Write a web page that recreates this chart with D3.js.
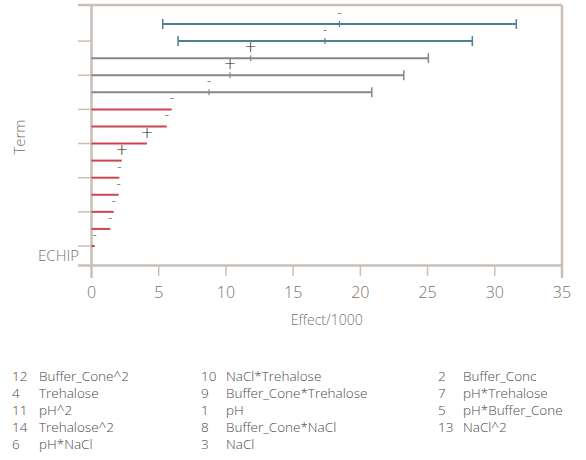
<!DOCTYPE html>
<html><head><meta charset="utf-8">
<script src="https://cdn.jsdelivr.net/npm/d3@7"></script>
<style>
html,body{margin:0;padding:0;background:#fff;}
svg{display:block;font-family:"Open Sans",Lato,sans-serif;}
</style></head>
<body><svg id="c" width="586" height="460"></svg>
<script>
// Data (Effect/1000), rows top to bottom
const groups = ["blue","blue","gray","gray","gray","red","red","red","red","red","red","red","red","red"];
const lows   = [5.3, 6.44, 0, 0, 0, 0,0,0,0,0,0,0,0,0];
const effects= [18.44, 17.37, 11.84, 10.3, 8.74, 5.97, 5.6, 4.13, 2.25, 2.07, 2.02, 1.65, 1.40, 0.24];
const highs  = [31.6, 28.33, 25.06, 23.23, 20.85, 5.97, 5.6, 4.13, 2.25, 2.07, 2.02, 1.65, 1.40, 0.24];
const signs  = ["-","-","+","+","-","-","-","+","+","-","-","-","-","-"];
const xTicks = [0,5,10,15,20,25,30,35];
const legendCols = [
  {nums:["12","4","11","14","6"], names:["Buffer_Cone^2","Trehalose","pH^2","Trehalose^2","pH*NaCl"]},
  {nums:["10","9","1","8","3"], names:["NaCl*Trehalose","Buffer_Cone*Trehalose","pH","Buffer_Cone*NaCl","NaCl"]},
  {nums:["2","7","5","13"], names:["Buffer_Conc","pH*Trehalose","pH*Buffer_Cone","NaCl^2"]}
];

const svg = d3.select("#c");
const L=91.5, R=562, T=5, B=265.5;
const axisCol="#c9bfb9", txtCol="#77716e";
const colors={blue:"#4f7f94", gray:"#8b8686", red:"#cc4551"};

const x = d3.scaleLinear().domain([0,35]).range([L,R]);
const y = d3.scalePoint().domain(d3.range(14)).range([24,246]);

// frame
svg.append("line").attr("x1",78).attr("x2",R).attr("y1",T).attr("y2",T).attr("stroke",axisCol).attr("stroke-width",2.5);
svg.append("line").attr("x1",R).attr("x2",R).attr("y1",T).attr("y2",278).attr("stroke",axisCol).attr("stroke-width",2.5);
svg.append("line").attr("x1",78).attr("x2",R).attr("y1",B).attr("y2",B).attr("stroke",axisCol).attr("stroke-width",2.5);
svg.append("line").attr("x1",L).attr("x2",L).attr("y1",T).attr("y2",278).attr("stroke",axisCol).attr("stroke-width",2.5);

// y ticks every other row
svg.selectAll(".yt").data(d3.range(1,14,2)).enter().append("line")
  .attr("x1",78).attr("x2",L).attr("y1",d=>y(d)).attr("y2",d=>y(d))
  .attr("stroke",axisCol).attr("stroke-width",1.5);

// x ticks
svg.selectAll(".xt").data(xTicks.slice(1,-1)).enter().append("line")
  .attr("x1",d=>x(d)).attr("x2",d=>x(d)).attr("y1",B).attr("y2",276)
  .attr("stroke",axisCol).attr("stroke-width",1.5);
svg.selectAll(".xl").data(xTicks).enter().append("text")
  .attr("x",d=>x(d)).attr("y",298).attr("text-anchor","middle")
  .attr("font-size",16).attr("font-weight",300).attr("fill",txtCol).text(d=>d);

svg.append("text").attr("x",(L+R)/2).attr("y",325).attr("text-anchor","middle")
  .attr("font-size",14).attr("font-weight",300).attr("fill",txtCol).text("Effect/1000");
svg.append("text").attr("transform","translate(25,137) rotate(-90)").attr("text-anchor","middle")
  .attr("font-size",15).attr("font-weight",300).attr("fill",txtCol).text("Term");
svg.append("text").attr("x",79).attr("y",261).attr("text-anchor","end")
  .attr("font-size",15).attr("font-weight",300).attr("fill",txtCol).text("ECHIP");

// bars
const rows = d3.range(14);
svg.selectAll(".bar").data(rows).enter().append("line")
  .attr("x1",i=>x(lows[i])).attr("x2",i=>x(highs[i]))
  .attr("y1",i=>y(i)).attr("y2",i=>y(i))
  .attr("stroke",i=>colors[groups[i]]).attr("stroke-width",2);
// caps
const ci = rows.filter(i=>groups[i]!=="red");
svg.selectAll(".capR").data(ci).enter().append("line")
  .attr("x1",i=>x(highs[i])).attr("x2",i=>x(highs[i]))
  .attr("y1",i=>y(i)-5).attr("y2",i=>y(i)+5)
  .attr("stroke",i=>colors[groups[i]]).attr("stroke-width",1.5);
svg.selectAll(".capL").data(ci.filter(i=>lows[i]>0)).enter().append("line")
  .attr("x1",i=>x(lows[i])).attr("x2",i=>x(lows[i]))
  .attr("y1",i=>y(i)-5).attr("y2",i=>y(i)+5)
  .attr("stroke",i=>colors[groups[i]]).attr("stroke-width",1.5);
svg.selectAll(".mid").data(ci).enter().append("line")
  .attr("x1",i=>x(effects[i])).attr("x2",i=>x(effects[i]))
  .attr("y1",i=>y(i)-3).attr("y2",i=>y(i)+3)
  .attr("stroke",i=>colors[groups[i]]).attr("stroke-width",1.2);

// signs
svg.selectAll(".sg").data(rows).enter().append("text")
  .attr("x",i=>x(effects[i])).attr("y",i=>y(i)-(signs[i]==="+"?6:7))
  .attr("text-anchor","middle").attr("font-size",i=>signs[i]==="+"?15:13)
  .attr("font-family","DejaVu Sans").attr("font-weight",300)
  .attr("fill","#222").text(i=>signs[i]);

// legend
const colX=[12,201,438], nameOff=[27,25,25];
legendCols.forEach((c,ci2)=>{
  const g=svg.append("g");
  g.selectAll(".n").data(c.nums).enter().append("text")
    .attr("x",colX[ci2]).attr("y",(d,i)=>381+i*17).attr("font-size",13.5).attr("font-weight",300).attr("fill","#4a4a4a").text(d=>d);
  g.selectAll(".m").data(c.names).enter().append("text")
    .attr("x",colX[ci2]+nameOff[ci2]).attr("y",(d,i)=>381+i*17).attr("font-size",13.5).attr("font-weight",300).attr("fill","#4a4a4a").text(d=>d);
});
</script></body></html>
